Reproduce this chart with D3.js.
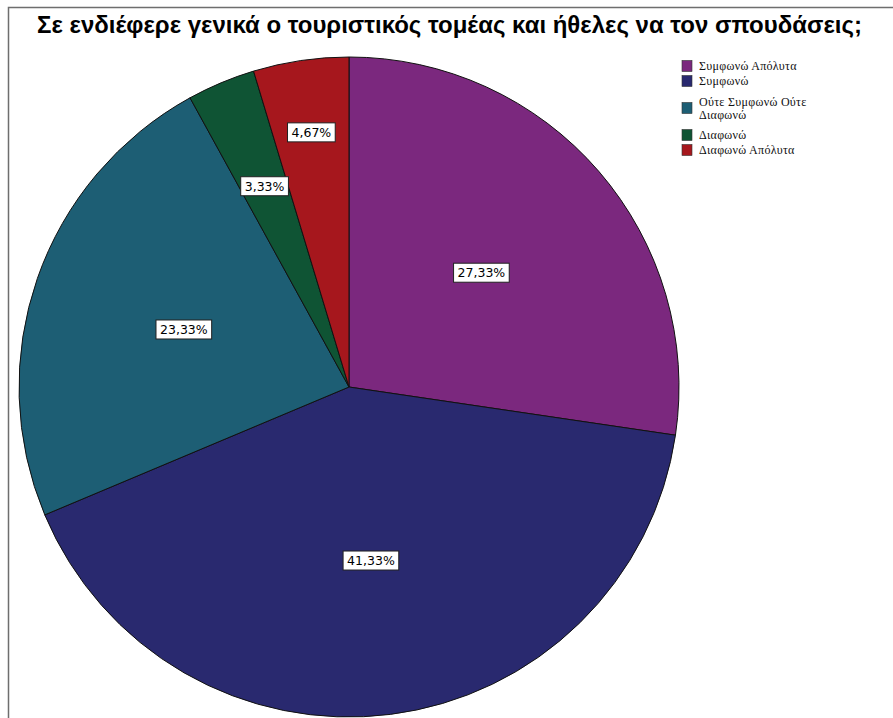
<!DOCTYPE html>
<html>
<head>
<meta charset="utf-8">
<script src="https://cdn.jsdelivr.net/npm/d3@7"></script>
<style>
  html, body { margin: 0; padding: 0; background: #fff; }
  svg { display: block; }
</style>
</head>
<body>
<div id="chart"></div>
<script>
// Chart data
const title = 'Σε ενδιέφερε γενικά ο τουριστικός τομέας και ήθελες να τον σπουδάσεις;';
const categories = ['Συμφωνώ Απόλυτα', 'Συμφωνώ', 'Ούτε Συμφωνώ Ούτε Διαφωνώ', 'Διαφωνώ', 'Διαφωνώ Απόλυτα'];
const percents = [27.33, 41.33, 23.33, 3.33, 4.67];
const colors = ['#7b287e', '#29296f', '#1d5e74', '#0f5434', '#a6171d'];

const width = 893;
const height = 718;

const svg = d3.select('#chart')
    .append('svg')
    .attr('width', width)
    .attr('height', height);

// Frame (only top and left are visible in the picture)
svg.append('path')
    .attr('d', `M8.5,${height} V7.5 H${width}`)
    .attr('fill', 'none')
    .attr('stroke', '#6e6e6e')
    .attr('stroke-width', 1.5);

// Title, font size picked so it spans the same width as the original
const titleText = svg.append('text')
    .attr('x', 449.5)
    .attr('y', 33)
    .attr('text-anchor', 'middle')
    .style('font-family', '"Liberation Sans", Arial, sans-serif')
    .style('font-weight', 'bold')
    .style('font-size', '19px')
    .text(title);
const natural = titleText.node().getComputedTextLength();
titleText.style('font-size', (19 * 825 / natural).toFixed(2) + 'px');

// Pie
const cx = 349, cy = 387, radius = 330;

const data = categories.map((c, i) => ({ name: c, value: percents[i], color: colors[i] }));

const pie = d3.pie()
    .sort(null)
    .value((d) => d.value);

const arcs = pie(data);

const arc = d3.arc()
    .innerRadius(0)
    .outerRadius(radius);

const g = svg.append('g')
    .attr('transform', `translate(${cx},${cy})`);

g.selectAll('path')
    .data(arcs)
    .join('path')
    .attr('d', arc)
    .attr('fill', (d) => d.data.color)
    .attr('stroke', '#111')
    .attr('stroke-width', 1);

// Labels: big slices near the middle, thin slices pushed outward step by step
let smallCount = 0;
const labelPos = arcs.map((d) => {
    let f = 0.53;
    if (d.data.value < 5) {
        f = 0.66 + 0.12 * smallCount;
        smallCount++;
    }
    const r = radius * f;
    return d3.arc().innerRadius(r).outerRadius(r).centroid(d);
});

const fmt = (v) => v.toFixed(2).replace('.', ',') + '%';

const labels = g.selectAll('g.label')
    .data(arcs)
    .join('g')
    .attr('class', 'label')
    .attr('transform', (d, i) => `translate(${labelPos[i][0]},${labelPos[i][1]})`);

labels.append('rect');
labels.append('text')
    .attr('text-anchor', 'middle')
    .attr('dy', '0.36em')
    .style('font-family', '"DejaVu Sans", Verdana, sans-serif')
    .style('font-size', '12.5px')
    .attr('fill', '#000')
    .text((d) => fmt(d.data.value));

labels.each(function () {
    const sel = d3.select(this);
    const w = sel.select('text').node().getComputedTextLength();
    sel.select('rect')
        .attr('x', -w / 2 - 4)
        .attr('y', -9.5)
        .attr('width', w + 8)
        .attr('height', 19)
        .attr('fill', '#fff')
        .attr('stroke', '#222')
        .attr('stroke-width', 1);
});

// Legend
const legendX = 682;
const maxTextWidth = 112;
const lineH = 13;
const legendFont = '"Liberation Serif", "DejaVu Serif", serif';

const legend = svg.append('g').attr('class', 'legend');

let yCursor = 58.5;
data.forEach((d) => {
    const item = legend.append('g');
    const text = item.append('text')
        .style('font-family', legendFont)
        .style('font-size', '12px')
        .style('letter-spacing', '0.3px')
        .attr('fill', '#111');

    // word wrap
    const words = d.name.split(' ');
    const lines = [];
    let line = [];
    const probe = svg.append('text')
        .style('font-family', legendFont)
        .style('font-size', '12px')
        .style('letter-spacing', '0.3px');
    words.forEach((w) => {
        const test = line.concat(w).join(' ');
        probe.text(test);
        if (probe.node().getComputedTextLength() > maxTextWidth && line.length) {
            lines.push(line.join(' '));
            line = [w];
        } else {
            line.push(w);
        }
    });
    lines.push(line.join(' '));
    probe.remove();

    const itemH = 15 + (lines.length - 1) * 24;
    const yc = yCursor + itemH / 2;

    item.append('rect')
        .attr('x', legendX)
        .attr('y', yc - 5.5)
        .attr('width', 10)
        .attr('height', 11)
        .attr('fill', d.color)
        .attr('stroke', '#333')
        .attr('stroke-width', 0.6);

    const top = yc - ((lines.length - 1) * lineH) / 2;
    lines.forEach((l, k) => {
        text.append('tspan')
            .attr('x', legendX + 17)
            .attr('y', top + k * lineH)
            .attr('dy', '0.35em')
            .text(l);
    });

    yCursor += itemH;
});
</script>
</body>
</html>
